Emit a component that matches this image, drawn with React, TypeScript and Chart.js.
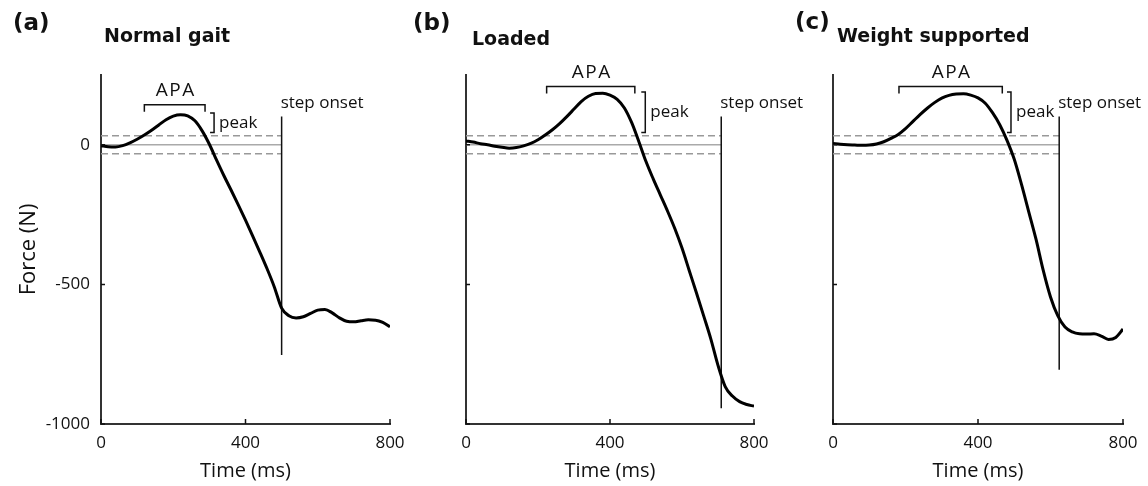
import { useEffect, useRef } from "react";
import { Chart, registerables } from "chart.js";

Chart.register(...registerables);

// ---------- data ----------
const timesMs = [
  0, 20, 40, 60, 80, 100, 120, 140, 160, 180, 200, 220, 240, 260, 280, 300, 320, 340, 360, 380, 400,
  420, 440, 460, 480, 500, 520, 540, 560, 580, 600, 620, 640, 660, 680, 700, 720, 740, 760, 780, 800,
];
const forceNormal = [
  -3, -7, -8, -3, 7, 20, 35, 52, 71, 90, 103, 108, 104, 86, 50, 2, -55, -110, -162, -215, -270,
  -327, -385, -445, -510, -585, -612, -620, -616, -604, -592, -590, -602, -620, -632, -634, -630, -627, -628, -636, -652,
];
const forceLoaded = [
  14, 10, 4, 0, -5, -9, -12, -10, -4, 5, 18, 35, 54, 76, 101, 128, 155, 174, 184, 185, 178,
  163, 132, 80, 12, -60, -122, -180, -238, -300, -370, -450, -530, -612, -695, -790, -866, -900, -920, -930, -936,
];
const forceSupported = [
  5, 2, 0, -1, -2, -1, 3, 11, 23, 37, 58, 83, 108, 131, 151, 167, 177, 182, 183, 178, 168,
  149, 115, 72, 16, -52, -142, -240, -338, -450, -545, -612, -653, -670, -677, -678, -677, -685, -697, -690, -660,
];
const panelForces = [forceNormal, forceLoaded, forceSupported];
const panelLetters = ["(a)", "(b)", "(c)"];
const panelTitles = ["Normal gait", "Loaded", "Weight supported"];
const xTicks = [0, 400, 800];
const yTicks = [0, -500, -1000];
const threshold = 32;
const stepOnset = [500, 709, 624];
const stepTop = [101, 101, 101];
const stepBottom = [-753, -944, -806];
const apaStart = [120, 224, 182];
const apaEnd = [288, 469, 467];
const apaLevel = [143, 209, 209];
const peakTime = [313, 498, 491];
const peakTop = [114, 189, 189];
const peakBottom = [44, 44, 44];

// ---------- layout ----------
const W = 1148;
const H = 486;
const layouts = [
  { left: 16, right: 758, yWidth: 85, showY: true, letterX: 13, letterBase: 30, titleX: 104, titleBase: 42 },
  { left: 466, right: 394, yWidth: 0, showY: false, letterX: 413, letterBase: 30, titleX: 472, titleBase: 45 },
  { left: 833, right: 25, yWidth: 0, showY: false, letterX: 795, letterBase: 29, titleX: 837, titleBase: 42 },
];
const INK = "#111";
const SANS = '"Open Sans", sans-serif';
const BOLD = '"DejaVu Sans", sans-serif';

const annotPlugin = {
  id: "annot",
  afterDatasetsDraw(chart: any, _args: any, opts: any) {
    const i: number = opts.index;
    const L = layouts[i];
    const { ctx, chartArea } = chart;
    const xs = chart.scales.x;
    const ys = chart.scales.y;
    ctx.save();
    ctx.strokeStyle = INK;
    ctx.lineWidth = 1.5;
    // inward tick marks
    ctx.beginPath();
    for (const v of yTicks) {
      const py = ys.getPixelForValue(v);
      ctx.moveTo(chartArea.left, py);
      ctx.lineTo(chartArea.left + 4, py);
    }
    for (const v of xTicks) {
      const px = xs.getPixelForValue(v);
      ctx.moveTo(px, chartArea.bottom);
      ctx.lineTo(px, chartArea.bottom - 5);
    }
    ctx.stroke();
    // APA bracket
    const x1 = xs.getPixelForValue(apaStart[i]);
    const x2 = xs.getPixelForValue(apaEnd[i]);
    const yb = ys.getPixelForValue(apaLevel[i]);
    ctx.beginPath();
    ctx.moveTo(x1, yb + 7);
    ctx.lineTo(x1, yb);
    ctx.lineTo(x2, yb);
    ctx.lineTo(x2, yb + 7);
    ctx.stroke();
    // peak bracket
    const pxp = xs.getPixelForValue(peakTime[i]);
    const pt = ys.getPixelForValue(peakTop[i]);
    const pb = ys.getPixelForValue(peakBottom[i]);
    ctx.beginPath();
    ctx.moveTo(pxp - 4, pt);
    ctx.lineTo(pxp, pt);
    ctx.lineTo(pxp, pb);
    ctx.lineTo(pxp - 4, pb);
    ctx.stroke();
    // texts
    ctx.fillStyle = INK;
    ctx.textBaseline = "middle";
    ctx.textAlign = "center";
    ctx.font = `19px ${SANS}`;
    (ctx as any).letterSpacing = "1.5px";
    ctx.fillText("APA", (x1 + x2) / 2 + 1, yb - 14);
    (ctx as any).letterSpacing = "0px";
    ctx.textAlign = "left";
    ctx.font = `17px ${SANS}`;
    ctx.fillText("peak", pxp + 5, (pt + pb) / 2);
    const sx = xs.getPixelForValue(stepOnset[i]);
    const st = ys.getPixelForValue(stepTop[i]);
    ctx.fillText("step onset", sx - 1, st - 13);
    ctx.textBaseline = "alphabetic";
    ctx.font = `bold 23px ${BOLD}`;
    ctx.fillText(panelLetters[i], L.letterX, L.letterBase);
    ctx.font = `bold 19px ${BOLD}`;
    ctx.fillText(panelTitles[i], L.titleX, L.titleBase);
    ctx.restore();
  },
};

function Panel({ index }: { index: number }) {
  const ref = useRef<HTMLCanvasElement | null>(null);
  useEffect(() => {
    const canvas = ref.current;
    if (!canvas) return;
    let chart: Chart | null = null;
    let cancelled = false;
    const L = layouts[index];
    const force = panelForces[index];
    const step = stepOnset[index];
    const build = () => {
      if (cancelled) return;
      chart = new Chart(canvas, {
        type: "line",
        data: {
          datasets: [
            {
              data: timesMs.map((t, k) => ({ x: t, y: force[k] })),
              borderColor: "#000",
              borderWidth: 3,
              pointRadius: 0,
              cubicInterpolationMode: "monotone",
            },
            {
              data: [
                { x: step, y: stepTop[index] },
                { x: step, y: stepBottom[index] },
              ],
              borderColor: INK,
              borderWidth: 1.5,
              pointRadius: 0,
              clip: false as any,
            },
            {
              data: [
                { x: 0, y: threshold },
                { x: step, y: threshold },
              ],
              borderColor: "#999",
              borderWidth: 1.5,
              borderDash: [7, 4],
              pointRadius: 0,
            },
            {
              data: [
                { x: 0, y: -threshold },
                { x: step, y: -threshold },
              ],
              borderColor: "#999",
              borderWidth: 1.5,
              borderDash: [7, 4],
              pointRadius: 0,
            },
            {
              data: [
                { x: 0, y: 0 },
                { x: step, y: 0 },
              ],
              borderColor: "#aaa",
              borderWidth: 1.5,
              pointRadius: 0,
            },
          ],
        },
        options: {
          animation: false,
          responsive: false,
          devicePixelRatio: 1,
          events: [],
          layout: { padding: { left: L.left, right: L.right, top: 75, bottom: 0 } },
          plugins: {
            legend: { display: false },
            tooltip: { enabled: false },
            annot: { index },
          } as any,
          scales: {
            x: {
              type: "linear",
              min: 0,
              max: 800,
              afterBuildTicks: (s: any) => {
                s.ticks = xTicks.map((v) => ({ value: v }));
              },
              afterFit: (s: any) => {
                s.height = 62;
              },
              grid: { display: false, drawTicks: false },
              border: { display: true, color: "#333", width: 2 },
              ticks: {
                font: { family: SANS, size: 17 },
                color: INK,
                padding: 9,
                maxRotation: 0,
                autoSkip: false,
                callback: (v: any) => String(v),
              },
              title: {
                display: true,
                text: "Time (ms)",
                font: { family: SANS, size: 20 },
                color: INK,
                padding: { top: 0, bottom: 3 },
              },
            },
            y: {
              type: "linear",
              min: -1000,
              max: 250,
              afterBuildTicks: (s: any) => {
                s.ticks = yTicks.map((v) => ({ value: v }));
              },
              afterFit: (s: any) => {
                s.width = L.yWidth;
              },
              grid: { display: false, drawTicks: false },
              border: { display: true, color: "#333", width: 2 },
              ticks: {
                display: L.showY,
                font: { family: SANS, size: 17 },
                color: INK,
                padding: 11,
                callback: (v: any) => String(v),
              },
              title: {
                display: L.showY,
                text: "Force (N)",
                font: { family: SANS, size: 22 },
                color: INK,
                padding: { top: 0, bottom: 0 },
              },
            },
          },
        },
        plugins: [annotPlugin],
      });
    };
    const fontsReady = (document as any).fonts
      ? Promise.all([
          (document as any).fonts.load(`17px "Open Sans"`),
          (document as any).fonts.load(`bold 19px "DejaVu Sans"`),
        ]).catch(() => null)
      : Promise.resolve(null);
    fontsReady.then(build);
    return () => {
      cancelled = true;
      if (chart) chart.destroy();
    };
  }, [index]);
  return (
    <canvas
      ref={ref}
      width={W}
      height={H}
      style={{ position: "absolute", left: 0, top: 0, width: W, height: H }}
    />
  );
}

export default function App() {
  return (
    <div style={{ position: "absolute", left: 0, top: 0, width: W, height: H, background: "#fff" }}>
      <Panel index={0} />
      <Panel index={1} />
      <Panel index={2} />
    </div>
  );
}
